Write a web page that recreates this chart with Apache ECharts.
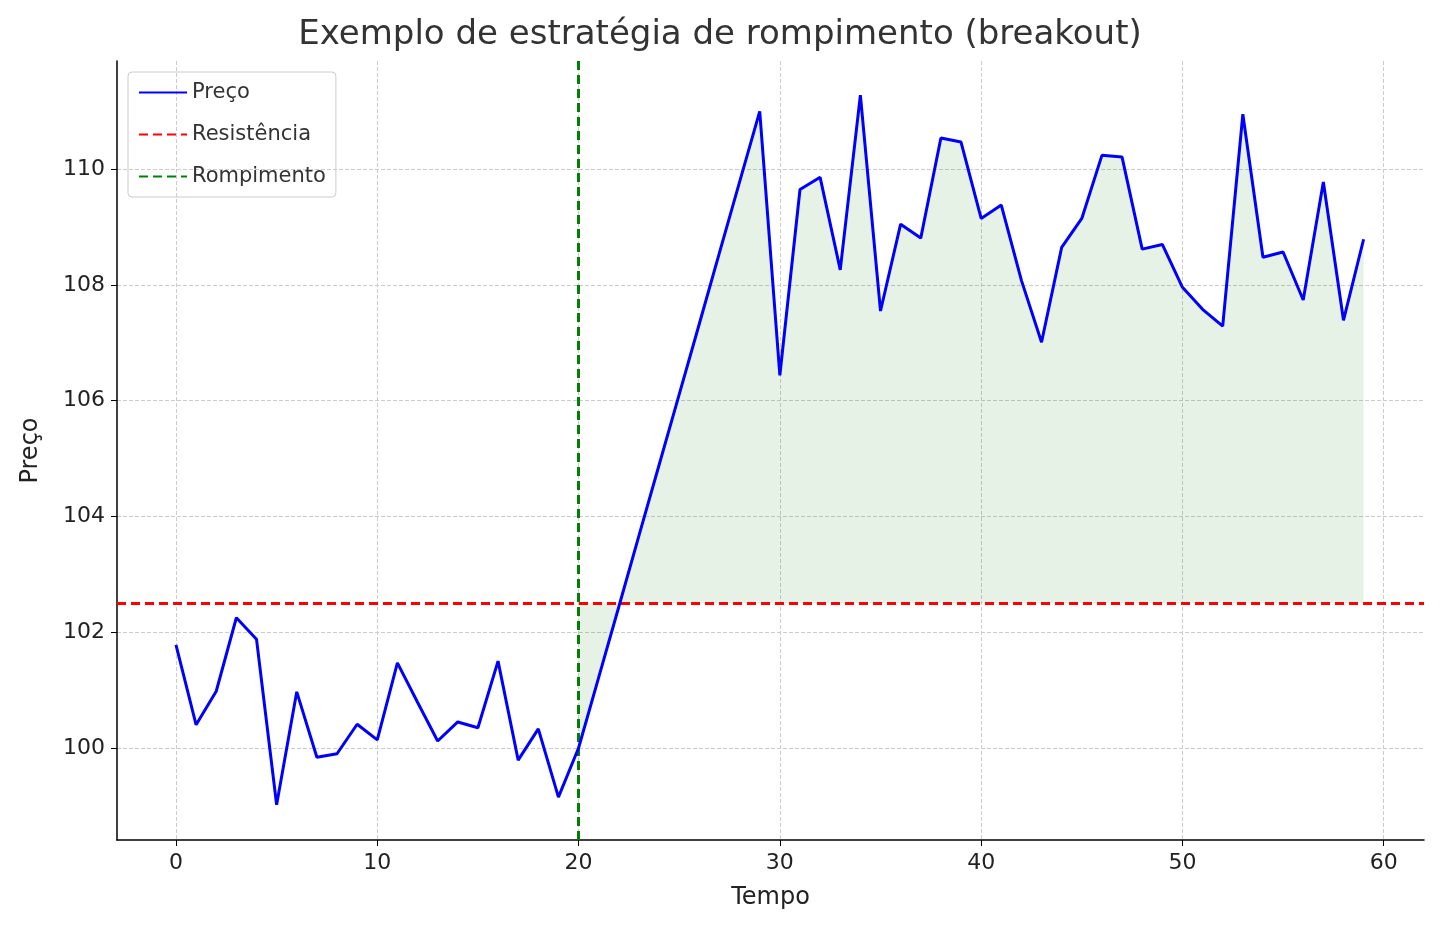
<!DOCTYPE html>
<html><head><meta charset="utf-8">
<script src="https://cdn.jsdelivr.net/npm/echarts@6/dist/echarts.min.js"></script>
<style>body{margin:0;background:#fff}#c{width:1440px;height:930px}</style>
</head><body><div id="c"></div>
<script>
var tempo = [];
for (var i = 0; i < 60; i++) tempo.push(i);
var preco = [101.78,100.40,100.98,102.25,101.88,99.02,100.97,99.84,99.90,100.41,
  100.14,101.47,100.79,100.12,100.45,100.35,101.50,99.79,100.33,99.15,
  100.0,101.22,102.44,103.67,104.89,106.11,107.33,108.56,109.78,111.0,
  106.44,109.65,109.86,108.26,111.28,107.55,109.05,108.81,110.54,110.47,
  109.15,109.38,108.08,107.01,108.65,109.15,110.24,110.21,108.62,108.70,
  107.96,107.58,107.29,110.95,108.48,108.57,107.74,109.78,107.39,108.79];
var resistencia = 102.5;
var rompimento = 20;
var xTicks = [0,10,20,30,40,50,60];
var yTicks = [100,102,104,106,108,110];

var lineData = tempo.map(function (t, i) { return [t, preco[i]]; });

// fill between price and resistance, from the breakout onward
function renderFill(params, api) {
  var pts = [];
  for (var j = rompimento; j < tempo.length; j++) pts.push(api.coord([tempo[j], preco[j]]));
  for (var k = tempo.length - 1; k >= rompimento; k--) pts.push(api.coord([tempo[k], resistencia]));
  return { type: 'polygon', shape: { points: pts }, style: { fill: 'rgba(0,128,0,0.1)' }, silent: true };
}

var font = 'DejaVu Sans';
var myChart = echarts.init(document.getElementById('c'));
var option = {
  animation: false,
  textStyle: { fontFamily: font },
  title: { text: 'Exemplo de estratégia de rompimento (breakout)', left: 'center', top: 13,
    textStyle: { fontFamily: font, fontSize: 34, fontWeight: 'normal', color: '#333' } },
  grid: { left: 117, right: 16, top: 61, bottom: 90 },
  legend: {
    data: ['Preço', 'Resistência', 'Rompimento'],
    orient: 'vertical', left: 128, top: 72, itemWidth: 48, itemHeight: 14, itemGap: 21,
    padding: [10, 10, 10, 10], borderColor: '#ccc', borderWidth: 1, borderRadius: 4,
    itemStyle: { opacity: 0 },
    textStyle: { fontFamily: font, fontSize: 21, color: '#333' }
  },
  xAxis: {
    type: 'value', min: -2.93, max: 62, name: 'Tempo', nameLocation: 'middle', nameGap: 46,
    nameTextStyle: { fontSize: 24, color: '#222' },
    axisLine: { onZero: false, lineStyle: { color: '#000', width: 1.5 } },
    axisTick: { customValues: xTicks, lineStyle: { color: '#000' }, length: 6 },
    axisLabel: { customValues: xTicks, fontSize: 22, color: '#222', margin: 12 },
    splitLine: { show: true, lineStyle: { color: '#ccc', type: 'dashed' } }
  },
  yAxis: {
    type: 'value', min: 98.41, max: 111.87, name: 'Preço', nameLocation: 'middle', nameGap: 74,
    nameTextStyle: { fontSize: 24, color: '#222' },
    axisLine: { show: true, onZero: false, lineStyle: { color: '#000', width: 1.5 } },
    axisTick: { show: true, customValues: yTicks, lineStyle: { color: '#000' }, length: 6 },
    axisLabel: { customValues: yTicks, fontSize: 22, color: '#222', margin: 12 },
    splitLine: { show: true, lineStyle: { color: '#ccc', type: 'dashed' } }
  },
  series: [
    { name: 'fill', type: 'custom', renderItem: renderFill, data: [[rompimento, resistencia]],
      silent: true, z: 1 },
    { name: 'Preço', type: 'line', data: lineData, symbol: 'none', z: 5,
      itemStyle: { color: '#0000ff' }, lineStyle: { color: '#0000ff', width: 3 } },
    { name: 'Resistência', type: 'line', data: [], symbol: 'none',
      itemStyle: { color: '#ff0000' }, lineStyle: { color: '#ff0000', width: 3, type: [9, 5] },
      markLine: { symbol: 'none', silent: true, label: { show: false },
        lineStyle: { color: '#ff0000', width: 3, type: [9, 5] },
        data: [{ yAxis: resistencia }] } },
    { name: 'Rompimento', type: 'line', data: [], symbol: 'none',
      itemStyle: { color: '#008000' }, lineStyle: { color: '#008000', width: 3, type: [9, 5] },
      markLine: { symbol: 'none', silent: true, label: { show: false },
        lineStyle: { color: '#008000', width: 3, type: [9, 5] },
        data: [{ xAxis: rompimento }] } }
  ]
};
myChart.setOption(option);
</script></body></html>
